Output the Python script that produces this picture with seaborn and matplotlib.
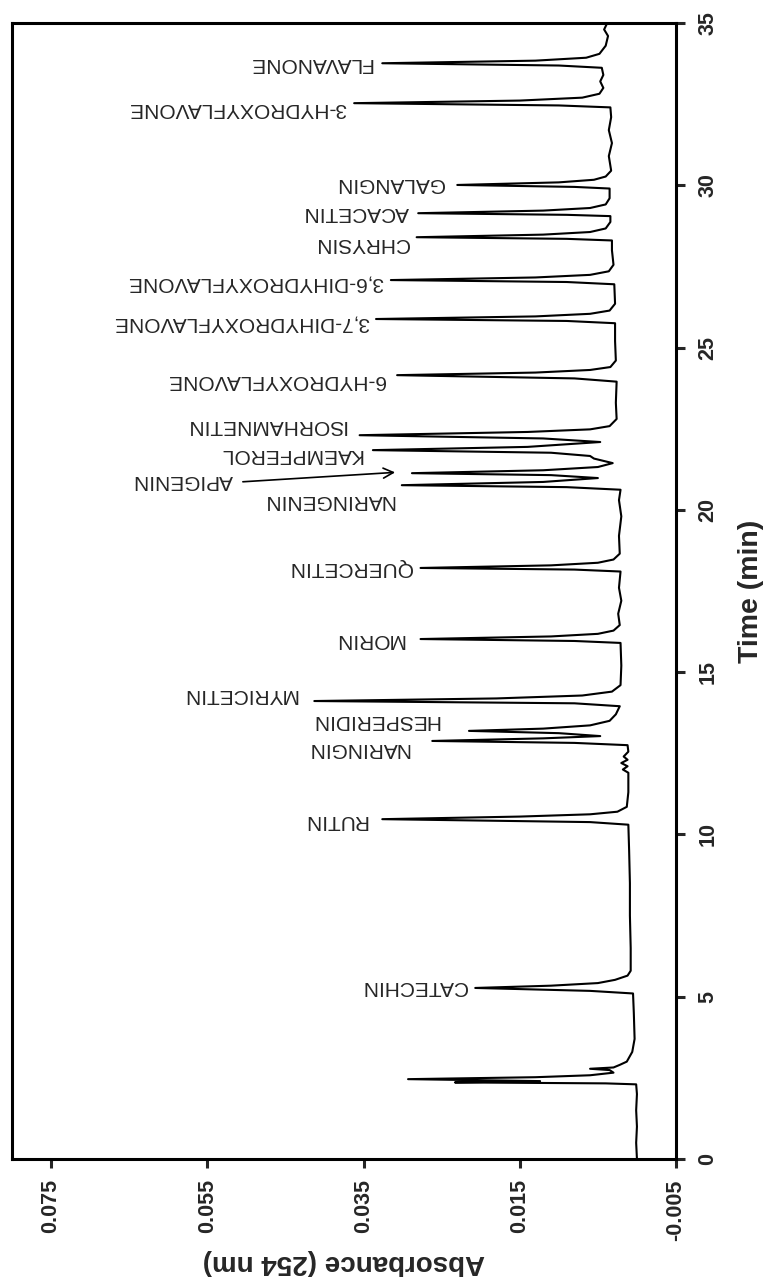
import matplotlib
matplotlib.use("Agg")
import matplotlib.pyplot as plt
import seaborn as sns
import pandas as pd

# chromatogram trace (time in min, absorbance at 254 nm)
trace_time = [
    0.0, 0.5, 1.0, 1.5, 2.0, 2.30, 2.33, 2.36, 2.40, 2.46, 2.52, 2.58, 2.66, 2.74, 2.78, 2.82, 2.9, 3.0, 3.3, 3.7,
    4.5, 5.10, 5.18, 5.27, 5.34, 5.42, 5.52, 5.65, 5.8,
    6.5, 7.5, 8.5, 9.5, 10.3,
    10.38, 10.47, 10.55, 10.62, 10.70, 10.85, 11.3, 11.9,
    12.0, 12.1, 12.2, 12.3, 12.4, 12.55, 12.75,
    12.82, 12.88, 12.96, 13.03, 13.12, 13.19, 13.26, 13.36, 13.5, 13.7, 13.95,
    14.04, 14.11, 14.19, 14.28, 14.40, 14.6, 15.2, 15.9,
    15.96, 16.02, 16.10, 16.18, 16.28, 16.45, 16.8, 17.2, 17.6, 18.1,
    18.16, 18.21, 18.29, 18.37, 18.47, 18.65, 19.2, 19.8, 20.3, 20.62,
    20.70, 20.76, 20.86, 20.98, 21.07, 21.13, 21.22, 21.32, 21.44, 21.58, 21.66,
    21.76, 21.84, 21.94, 22.09, 22.20, 22.30, 22.40, 22.48, 22.58, 22.8, 23.3, 23.95,
    24.05, 24.15, 24.23, 24.31, 24.40, 24.6, 25.2, 25.75,
    25.82, 25.88, 25.96, 26.04, 26.14, 26.35, 26.95,
    27.02, 27.08, 27.16, 27.24, 27.35, 27.55, 28.0, 28.30,
    28.35, 28.40, 28.48, 28.56, 28.67, 28.87, 29.05,
    29.09, 29.14, 29.22, 29.30, 29.41, 29.6, 29.90,
    29.95, 30.01, 30.09, 30.17, 30.27, 30.45, 30.9, 31.3, 31.7, 32.1, 32.40,
    32.46, 32.53, 32.61, 32.70, 32.82, 33.0, 33.2, 33.4, 33.62,
    33.69, 33.76, 33.84, 33.93, 34.05, 34.3, 34.6, 34.8, 35.0,
]
trace_abs = [
    0.0000, 0.0001, 0.0000, 0.0001, 0.0000, 0.0001, 0.0040, 0.0233, 0.0124, 0.0293, 0.0130, 0.0060, 0.0030, 0.0035, 0.0060, 0.0030, 0.0022, 0.0013, 0.0006, 0.0003,
    0.0004, 0.0005, 0.0060, 0.0207, 0.0110, 0.0050, 0.0028, 0.0012, 0.0008,
    0.0008, 0.0009, 0.0009, 0.0010, 0.0011,
    0.0060, 0.0326, 0.0150, 0.0060, 0.0025, 0.0013, 0.0011, 0.0011,
    0.0018, 0.0012, 0.0020, 0.0012, 0.0017, 0.0011, 0.0012,
    0.0080, 0.0262, 0.0120, 0.0047, 0.0100, 0.0215, 0.0120, 0.0060, 0.0035, 0.0027, 0.0022,
    0.0080, 0.0413, 0.0180, 0.0070, 0.0032, 0.0021, 0.0020, 0.0021,
    0.0080, 0.0277, 0.0110, 0.0050, 0.0030, 0.0022, 0.0024, 0.0020, 0.0023, 0.0021,
    0.0080, 0.0277, 0.0110, 0.0050, 0.0030, 0.0022, 0.0023, 0.0020, 0.0023, 0.0021,
    0.0090, 0.0301, 0.0120, 0.0050, 0.0110, 0.0288, 0.0120, 0.0050, 0.0031, 0.0055, 0.0060,
    0.0110, 0.0338, 0.0140, 0.0047, 0.0120, 0.0355, 0.0140, 0.0060, 0.0035, 0.0026, 0.0027, 0.0026,
    0.0080, 0.0307, 0.0130, 0.0060, 0.0034, 0.0027, 0.0028, 0.0028,
    0.0090, 0.0334, 0.0130, 0.0060, 0.0035, 0.0028, 0.0029,
    0.0090, 0.0315, 0.0130, 0.0060, 0.0036, 0.0030, 0.0032, 0.0032,
    0.0090, 0.0282, 0.0120, 0.0060, 0.0040, 0.0034, 0.0034,
    0.0090, 0.0280, 0.0120, 0.0060, 0.0040, 0.0035, 0.0035,
    0.0080, 0.0230, 0.0100, 0.0055, 0.0040, 0.0033, 0.0036, 0.0032, 0.0036, 0.0033, 0.0034,
    0.0100, 0.0362, 0.0150, 0.0070, 0.0048, 0.0043, 0.0047, 0.0043, 0.0045,
    0.0100, 0.0326, 0.0130, 0.0065, 0.0048, 0.0040, 0.0037, 0.0042, 0.0038,
]

peak_names = ["CATECHIN", "RUTIN", "NARINGIN", "HESPERIDIN", "MYRICETIN", "MORIN",
              "QUERCETIN", "NARINGENIN", "KAEMPFEROL", "ISORHAMNETIN",
              "6-HYDROXYFLAVONE", "3,7-DIHYDROXYFLAVONE", "3,6-DIHYDROXYFLAVONE",
              "CHRYSIN", "ACACETIN", "GALANGIN", "3-HYDROXYFLAVONE", "FLAVANONE"]
# where each label starts (absorbance) and the time it sits at
label_abs = [0.0218, 0.0345, 0.0291, 0.0253, 0.0435, 0.0298, 0.0288, 0.0311, 0.0352,
             0.0372, 0.0323, 0.0343, 0.0325, 0.0292, 0.0292, 0.0247, 0.0372, 0.0339]
label_time = [5.30, 10.44, 12.66, 13.52, 14.30, 16.02, 18.21, 20.30, 21.72,
              22.61, 24.00, 25.76, 26.99, 28.22, 29.17, 30.07, 32.38, 33.76]

abs_ticks = [-0.005, 0.015, 0.035, 0.055, 0.075]
time_ticks = [0, 5, 10, 15, 20, 25, 30, 35]

sns.set_style("white")
plt.rcParams["font.family"] = ["Liberation Sans", "DejaVu Sans"]

W, H = 763, 1279
fig = plt.figure(figsize=(W / 100, H / 100), dpi=100)
ax = fig.add_axes([12 / W, 1 - 1159 / H, (676 - 12) / W, (1159 - 23) / H])

df = pd.DataFrame({"absorbance": trace_abs, "time": trace_time})
sns.lineplot(data=df, x="absorbance", y="time", sort=False, estimator=None,
             color="black", linewidth=1.5, ax=ax)

ax.set_xlim(0.080, -0.005)
ax.set_ylim(0, 35)

ax.set_xticks(abs_ticks)
ax.set_xticklabels([f"{v:.3f}" for v in abs_ticks])
ax.set_yticks(time_ticks)
ax.set_yticklabels([str(v) for v in time_ticks])

ax.yaxis.tick_right()
ax.yaxis.set_label_position("right")
ax.tick_params(axis="x", bottom=True, top=False, direction="out", length=6.5, width=2.2,
               pad=8, labelrotation=90, labelsize=15.5)
ax.tick_params(axis="y", left=False, right=True, direction="out", length=6.5, width=2.2,
               pad=9, labelrotation=90, labelsize=15.5)
for lab in ax.get_xticklabels() + ax.get_yticklabels():
    lab.set_fontweight("bold")
for lab in ax.get_yticklabels():
    lab.set_va("center")

for sp in ax.spines.values():
    sp.set_visible(True)
    sp.set_linewidth(2.2)
    sp.set_color("black")

ax.set_xlabel("Absorbance (254 nm)", rotation=180, fontsize=20, fontweight="bold", labelpad=6)
ax.set_ylabel("Time (min)", rotation=90, fontsize=20.5, fontweight="bold", labelpad=14)

for name, xa, tt in zip(peak_names, label_abs, label_time):
    ax.text(xa, tt, name, rotation=180, rotation_mode="anchor", ha="left", va="center",
            fontsize=15)

# apigenin label sits away from its peak, with an arrow
ax.text(0.0517, 20.89, "APIGENIN", rotation=180, rotation_mode="anchor", ha="left",
        va="center", fontsize=15)
ax.annotate("", xy=(0.0306, 21.16), xytext=(0.0508, 20.86),
            arrowprops=dict(arrowstyle="->", lw=1.2, color="black", mutation_scale=18))

fig.savefig("out.png", dpi=100)
